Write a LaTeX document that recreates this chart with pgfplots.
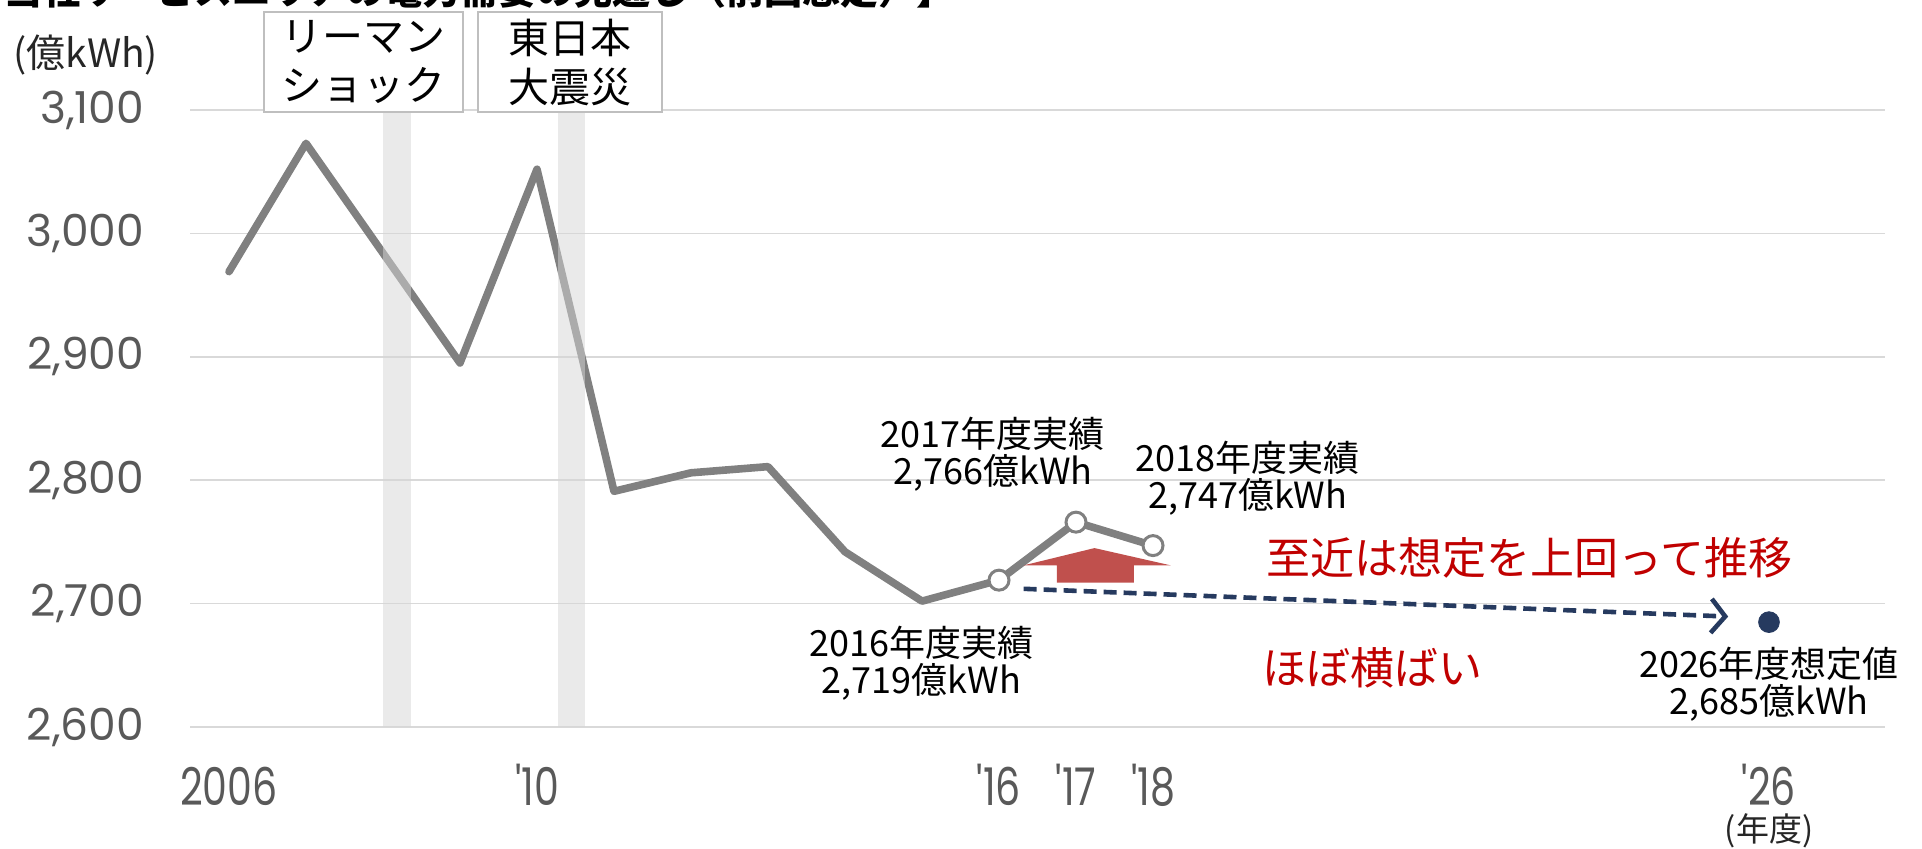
\documentclass[border=0pt]{standalone}
\usepackage{fontspec}
\usepackage{pgfplots}
\pgfplotsset{compat=1.18}
\usetikzlibrary{arrows.meta}
\setmainfont{Noto Sans CJK JP}
\newfontfamily\cjk{Noto Sans CJK JP}
\newfontfamily\ytickfont{Poppins}[Ligatures=TeXOff]
\newfontfamily\xtickfont{Poppins}[FakeStretch=0.76,Ligatures=TeXOff]
\definecolor{linegray}{RGB}{128,128,128}
\definecolor{tickgray}{RGB}{89,89,89}
\definecolor{gridgray}{RGB}{217,217,217}
\definecolor{navy}{RGB}{38,58,95}
\definecolor{redtxt}{RGB}{192,0,0}
\definecolor{redarrow}{RGB}{192,80,77}
\definecolor{boxgray}{RGB}{191,191,191}
\definecolor{bargray}{RGB}{214,214,214}
\newcommand\annfont{\cjk\fontsize{18pt}{18.5pt}\selectfont}
\newcommand\boxfont{\cjk\fontsize{20.5pt}{24.5pt}\selectfont}
\newcommand\redfont{\cjk\fontsize{22pt}{24pt}\selectfont}
\newcommand\unitfont{\cjk\fontsize{19.5pt}{21pt}\selectfont}
\newcommand\yearfont{\cjk\fontsize{16.5pt}{18pt}\selectfont}
\newcommand\titlefont{\cjk\bfseries\fontsize{19pt}{21pt}\selectfont}
\begin{document}
\begin{tikzpicture}
\begin{axis}[
  at={(95.25pt,60.5pt)}, anchor=south west,
  scale only axis, width=847pt, height=308.5pt,
  xmin=2005.5, xmax=2027.5, ymin=2600, ymax=3100,
  clip=false,
  axis line style={draw=none},
  major tick length=0pt,
  ymajorgrids, grid style={gridgray, line width=0.8pt},
  ytick={2600,2700,2800,2900,3000,3100},
  yticklabels={{2,600},{2,700},{2,800},{2,900},{3,000},{3,100}},
  yticklabel style={font=\ytickfont\fontsize{22pt}{24pt}\selectfont, text=tickgray, anchor=east, inner sep=0pt, xshift=-23pt},
  xtick={2006,2010,2016,2017,2018,2026},
  xticklabels={2006,'10,'16,'17,'18,'26},
  xticklabel style={font=\xtickfont\fontsize{26pt}{28pt}\selectfont, text=tickgray, anchor=base, inner sep=0pt, text depth=0pt, yshift=-39.3pt},
]
% main series
\addplot[linegray, line width=3.8pt, line join=round, line cap=round] coordinates {
  (2006,2969) (2007,3073) (2008,2984) (2009,2895) (2010,3052)
  (2011,2791) (2012,2806) (2013,2811) (2014,2742) (2015,2702)
  (2016,2719) (2017,2766) (2018,2747)};
% event bars
\fill[bargray, opacity=0.5] (axis cs:2008.0,2600) rectangle (axis cs:2008.37,3098);
\fill[bargray, opacity=0.5] (axis cs:2010.27,2600) rectangle (axis cs:2010.62,3098);
% markers
\addplot[only marks, mark=*, mark size=5pt, mark options={fill=white, draw=linegray, line width=1.5pt}] coordinates {(2016,2719) (2017,2766) (2018,2747)};
\addplot[only marks, mark=*, mark size=5.2pt, navy] coordinates {(2026,2685)};
% red block arrow
\addplot[fill=redarrow, draw=none] coordinates {
  (2016.32,2731) (2017.24,2745) (2018.23,2731) (2017.75,2731)
  (2017.75,2717) (2016.75,2717) (2016.75,2731)} -- cycle;
% dashed trend arrow
\addplot[navy, line width=2.3pt, dash pattern=on 6.5pt off 3.5pt,
  -{Straight Barb[length=7pt,width=17pt,line width=2.3pt]}] coordinates {(2016.32,2712) (2025.47,2689.5)};
% event boxes
\draw[boxgray, fill=white, line width=1pt] (axis cs:2006.45,3179.5) rectangle (axis cs:2009.04,3098);
\node[font=\boxfont, align=center] at (axis cs:2007.745,3138.75) {リーマン\\ショック};
\draw[boxgray, fill=white, line width=1pt] (axis cs:2009.23,3179.5) rectangle (axis cs:2011.62,3098);
\node[font=\boxfont, align=center] at (axis cs:2010.425,3138.75) {東日本\\大震災};
% data labels
\node[font=\annfont, align=center] at (axis cs:2015.92,2821) {2017年度実績\\2,766億kWh};
\node[font=\annfont, align=center] at (axis cs:2019.23,2802) {2018年度実績\\2,747億kWh};
\node[font=\annfont, align=center] at (axis cs:2014.99,2651.7) {2016年度実績\\2,719億kWh};
\node[font=\annfont, align=center] at (axis cs:2026,2635) {2026年度想定値\\2,685億kWh};
% red comments
\node[font=\redfont, text=redtxt] at (axis cs:2022.89,2737) {至近は想定を上回って推移};
\node[font=\redfont, text=redtxt, anchor=west, inner sep=0pt] at (axis cs:2019.42,2647.7) {ほぼ横ばい};
% units
\node[font=\unitfont, text=black!85] at (axis cs:2004.14,3144.7) {(億kWh)};
\node[font=\yearfont, text=black!85, inner sep=0pt, anchor=south] at (axis cs:2026,2502) {(年度)};
\end{axis}
\node[font=\titlefont, anchor=base west, inner sep=0pt] at (2pt,421.5pt) {当社サービスエリアの電力需要の見通し（前回想定）】};
\pgfresetboundingbox
\useasboundingbox (0,0) rectangle (961pt,424pt);
\end{tikzpicture}
\end{document}
